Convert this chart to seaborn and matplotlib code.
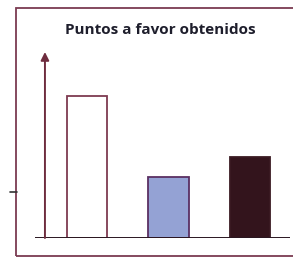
import matplotlib
matplotlib.use("Agg")
import matplotlib.pyplot as plt
import seaborn as sns
import pandas as pd
from matplotlib.patches import Rectangle
from matplotlib.lines import Line2D

categories = ["Equipo A", "Equipo B", "Equipo C"]
values = [7, 3, 4]
fill_colors = ["#ffffff", "#94a2d4", "#33141c"]
edge_colors = ["#7e3a50", "#5a2f62", "#3a1a22"]
title = "Puntos a favor obtenidos"

W, H = 293, 257
sns.set_style("white")
fig = plt.figure(figsize=(W / 100, H / 100), dpi=100)

def fx(px):
    return px / W

def fy(py):
    return 1 - py / H

# outer frame
fig.add_artist(Rectangle((fx(16), fy(256)), fx(300) - fx(16), fy(8) - fy(256),
                         transform=fig.transFigure, fill=False,
                         edgecolor="#7b3b52", linewidth=1.3))
# small left tick
fig.add_artist(Line2D([fx(10), fx(17)], [fy(192), fy(192)],
                      transform=fig.transFigure, color="#333333", linewidth=1.2))

ax = fig.add_axes([fx(35), fy(238), fx(290) - fx(35), fy(52) - fy(238)])
df = pd.DataFrame({"cat": categories, "val": values})
sns.barplot(data=df, x="cat", y="val", hue="cat", palette=fill_colors,
            width=0.5, legend=False, ax=ax, saturation=1)
for p, ec in zip(ax.patches, edge_colors):
    p.set_edgecolor(ec)
    p.set_linewidth(1.3)

ax.set_ylim(0, 9.17)
ax.set_xlim(-0.638, 2.49)
for s in ax.spines.values():
    s.set_visible(False)
ax.set_xticks([])
ax.set_yticks([])
ax.set_xlabel("")
ax.set_ylabel("")
ax.patch.set_alpha(0)

ax.axhline(0, color="#2a1620", linewidth=1.4)
ax.annotate("", xy=(0.039, 1.0), xytext=(0.039, 0.0), xycoords="axes fraction",
            arrowprops=dict(arrowstyle="-|>", color="#6e2c3e", linewidth=1.4,
                            mutation_scale=12, shrinkA=0, shrinkB=0))

fig.text(fx(160), fy(30), title, ha="center", va="center", fontsize=11,
         fontweight="bold", color="#1e1e2c", family="Open Sans")

fig.savefig("out.png", dpi=100)
